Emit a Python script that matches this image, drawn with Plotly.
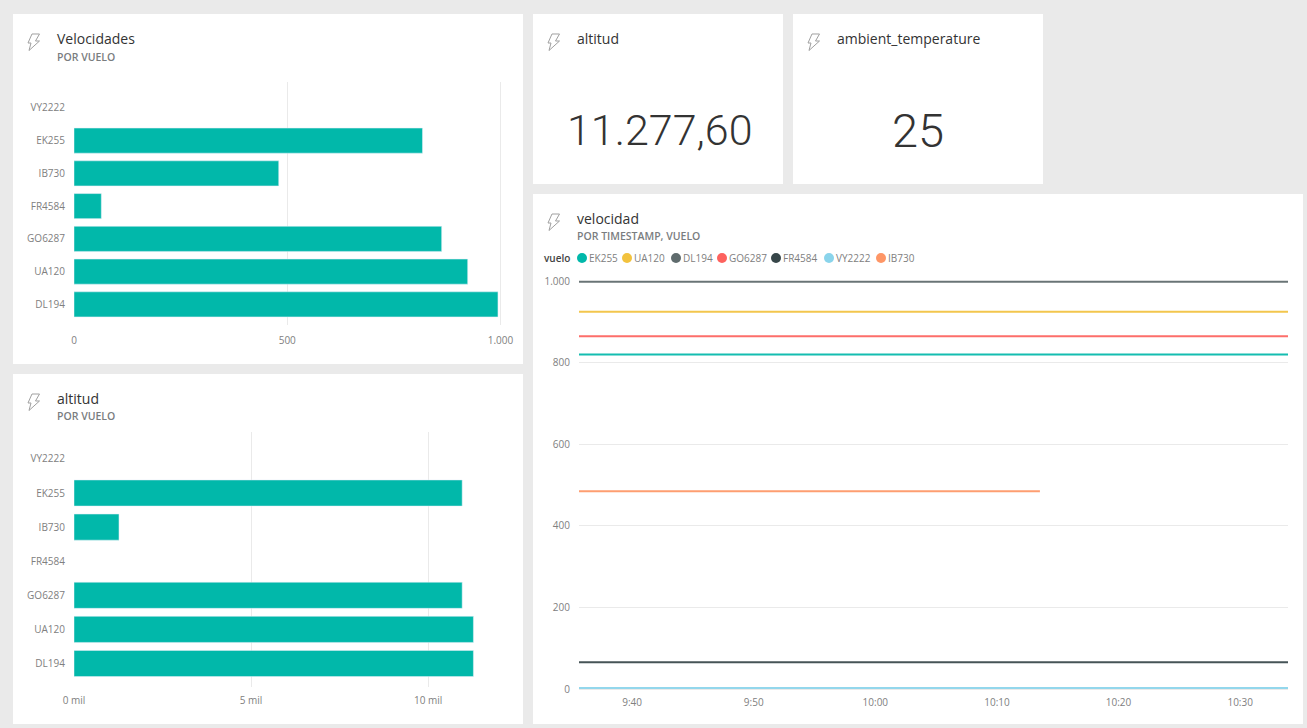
#!/usr/bin/env python3
# -*- coding: utf-8 -*-
"""Panel de vuelos: velocidades, altitud y velocidad por timestamp."""

import plotly.graph_objects as go

W, H = 1307, 728

# Bar panels, top to bottom
flights = ["VY2222", "EK255", "IB730", "FR4584", "GO6287", "UA120", "DL194"]
speed_by_flight = [None, 817, 480, 64, 862, 923, 994]
altitude_by_flight = [None, 10960, 1270, None, 10960, 11277.6, 11277.6]
altitude_ticks = [0, 5000, 10000]
altitude_tick_labels = ["0 mil", "5 mil", "10 mil"]

# KPI cards
altitude_kpi = "11.277,60"
temperature_kpi = "25"

# Line panel, in legend order
line_flights = ["EK255", "UA120", "DL194", "GO6287", "FR4584", "VY2222", "IB730"]
line_colors = ["#01B8AA", "#F2C23E", "#5F6B6D", "#FD625E", "#374649", "#8AD4EB", "#FE9666"]
line_start = "2018-03-01 09:35:38"
line_end = "2018-03-01 10:33:56"
ib730_end = "2018-03-01 10:13:32"
line_speed = [820, 925, 998, 865, 66, 3, 485]

BACKGROUND = "#EAEAEA"
TEAL = "#01B8AA"
TITLE_COLOR = "#333333"
SUB_COLOR = "#7A7D7F"
TICK_COLOR = "#808080"
GRID_COLOR = "#EAEAEA"
FONT = "Open Sans"


def px_x(x):
    return x / W


def px_y(y):
    return 1 - y / H


fig = go.Figure()

fig.add_trace(go.Bar(y=flights, x=speed_by_flight, orientation="h", marker_color=TEAL,
                     xaxis="x", yaxis="y", showlegend=False))
fig.add_trace(go.Bar(y=flights, x=altitude_by_flight, orientation="h", marker_color=TEAL,
                     xaxis="x2", yaxis="y2", showlegend=False))

for name, color, value in zip(line_flights, line_colors, line_speed):
    end = ib730_end if name == "IB730" else line_end
    fig.add_trace(go.Scatter(x=[line_start, end], y=[value, value], mode="lines", name=name,
                             line=dict(color=color, width=2), opacity=0.92,
                             xaxis="x3", yaxis="y3", showlegend=False))

tick_font = dict(family=FONT, size=10, color=TICK_COLOR)
axis_common = dict(tickfont=tick_font, ticks="outside", tickcolor="rgba(0,0,0,0)", zeroline=False,
                   showline=False, automargin=False)
cat_common = dict(axis_common, type="category", categoryorder="array", categoryarray=flights,
                  showgrid=False, ticklen=6)

fig.update_layout(
    width=W,
    height=H,
    autosize=False,
    margin=dict(l=0, r=0, t=0, b=0),
    paper_bgcolor=BACKGROUND,
    plot_bgcolor="rgba(0,0,0,0)",
    separators=",.",
    bargap=0.235,
    font=dict(family=FONT),
    xaxis=dict(axis_common, domain=[px_x(74), px_x(505)], anchor="y", range=[0, 1010.5],
               tickvals=[0, 500, 1000], tickformat=",d", showgrid=True, gridcolor=GRID_COLOR, ticklen=6),
    yaxis=dict(cat_common, domain=[px_y(325), px_y(82)], anchor="x", range=[6.63, -0.79]),
    xaxis2=dict(axis_common, domain=[px_x(74), px_x(499)], anchor="y2", range=[0, 12000],
                tickvals=altitude_ticks, ticktext=altitude_tick_labels,
                showgrid=True, gridcolor=GRID_COLOR, ticklen=4),
    yaxis2=dict(cat_common, domain=[px_y(687), px_y(432)], anchor="x2", range=[6.69, -0.79]),
    xaxis3=dict(axis_common, domain=[px_x(579), px_x(1288)], anchor="y3", type="date",
                range=[line_start, line_end], dtick=600000, tickformat="%-H:%M", showgrid=False, ticklen=1),
    yaxis3=dict(axis_common, domain=[px_y(692), px_y(279)], anchor="x3", range=[-7, 1005],
                tickvals=[0, 200, 400, 600, 800, 1000], tickformat=",d",
                showgrid=True, gridcolor=GRID_COLOR, ticklen=6),
)

# White cards behind the plots
cards = [(13, 14, 523, 364), (13, 374, 523, 724), (533, 14, 783, 184), (793, 14, 1043, 184), (533, 194, 1303, 724)]
for x0, y0, x1, y1 in cards:
    fig.add_shape(type="rect", xref="paper", yref="paper", layer="below",
                  x0=px_x(x0), x1=px_x(x1), y0=px_y(y0), y1=px_y(y1),
                  fillcolor="white", line_width=0)


def add_text(x, y, text, size, color, anchor="left", family=FONT, weight=None):
    fig.add_annotation(xref="paper", yref="paper", x=px_x(x), y=px_y(y), text=text, showarrow=False,
                       xanchor=anchor, yanchor="middle", borderpad=0, borderwidth=0,
                       font=dict(family=family, size=size, color=color, weight=weight))


def add_bolt(x, y):
    # Lightning icon in card header
    points = [(4, 1), (11.5, 1), (7.5, 8), (11.5, 8), (1, 17.5), (3, 10), (0, 10)]
    path = "M " + " L ".join(f"{px_x(x + a):.5f},{px_y(y + b):.5f}" for a, b in points) + " Z"
    fig.add_shape(type="path", xref="paper", yref="paper", path=path, line=dict(color="#A0A0A0", width=1))


headers = [
    (28, 33, 57, 38, "Velocidades", 57, "POR VUELO"),
    (28, 393, 57, 398.4, "altitud", 416, "POR VUELO"),
    (548, 33, 577, 38, "altitud", None, None),
    (808, 33, 837, 38, "ambient_temperature", None, None),
    (548, 213, 577, 218, "velocidad", 236, "POR TIMESTAMP, VUELO"),
]
for bolt_x, bolt_y, text_x, text_y, title, sub_y, sub in headers:
    add_bolt(bolt_x, bolt_y)
    add_text(text_x, text_y, title, 14, TITLE_COLOR)
    if sub:
        add_text(text_x, sub_y, sub, 10.5, SUB_COLOR, weight=600)

add_text(660, 130, altitude_kpi, 43, "#333333", anchor="center", family="Roboto", weight=300)
add_text(918, 130, temperature_kpi, 47, "#333333", anchor="center", family="Roboto", weight=300)

# Compact legend for the line panel
add_text(570, 258, "vuelo", 10, "#444444", anchor="right", weight=600)
legend_x = [582, 627, 676, 722, 776, 829, 881]
for cx, name, color in zip(legend_x, line_flights, line_colors):
    fig.add_shape(type="circle", xref="paper", yref="paper", x0=px_x(cx - 5), x1=px_x(cx + 5),
                  y0=px_y(258 + 5), y1=px_y(258 - 5), fillcolor=color, line_width=0)
    add_text(cx + 7, 258, name, 10, TICK_COLOR)

fig.write_html("out.html", config={"displayModeBar": False},
               post_script="document.body.style.margin='0';document.body.style.overflow='hidden';")
